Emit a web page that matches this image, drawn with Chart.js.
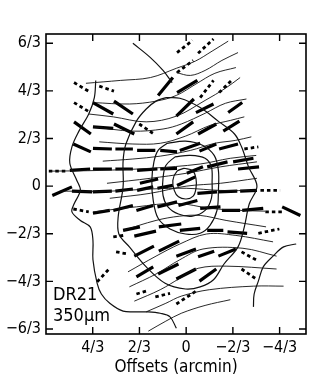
<!DOCTYPE html>
<html>
<head>
<meta charset="utf-8">
<script src="https://cdn.jsdelivr.net/npm/chart.js@4.4.1/dist/chart.umd.min.js"></script>
<style>
  html, body { margin: 0; padding: 0; background: #fff; }
</style>
</head>
<body>
<canvas id="mapa" width="332" height="388"></canvas>
<script>
// offsets in arcmin (x = RA offset, increasing to the left)
const xTicks = [4/3, 2/3, 0, -2/3, -4/3];
const xTickLabels = ['4/3', '2/3', '0', '\u22122/3', '\u22124/3'];
const yTicks = [2, 4/3, 2/3, 0, -2/3, -4/3, -2];
const yTickLabels = ['6/3', '4/3', '2/3', '0', '\u22122/3', '\u22124/3', '\u22126/3'];

// 350um flux contours
const contours = [
  [[0.03,0.25],[-0.09,0.22],[-0.14,0.11],[-0.14,-0.03],[-0.10,-0.14],[0,-0.18],[0.11,-0.15],[0.17,-0.06],[0.19,0.08],[0.13,0.21],[0.03,0.25]],
  [[0.16,0.41],[-0.06,0.43],[-0.27,0.39],[-0.36,0.27],[-0.37,0.06],[-0.36,-0.17],[-0.27,-0.34],[-0.09,-0.42],[0.11,-0.39],[0.26,-0.29],[0.33,-0.13],[0.33,0.11],[0.29,0.29],[0.16,0.41]],
  [[0.27,0.60],[0.01,0.63],[-0.24,0.57],[-0.40,0.43],[-0.46,0.22],[-0.46,-0.06],[-0.44,-0.34],[-0.34,-0.55],[-0.20,-0.66],[0.01,-0.67],[0.23,-0.60],[0.40,-0.45],[0.47,-0.20],[0.49,0.08],[0.46,0.34],[0.40,0.50],[0.27,0.60]],
  [[0.29,1.24],[0.09,1.23],[-0.20,1.10],[-0.47,0.90],[-0.69,0.73],[-0.79,0.55],[-0.89,0.27],[-1.01,0],[-0.90,-0.25],[-0.83,-0.57],[-0.74,-0.85],[-0.54,-1.09],[-0.39,-1.31],[-0.20,-1.41],[0.01,-1.44],[0.30,-1.36],[0.57,-1.13],[0.81,-0.85],[0.96,-0.67],[0.97,-0.43],[0.90,-0.01],[0.90,0.35],[0.86,0.59],[0.71,0.91],[0.57,1.08],[0.43,1.19],[0.29,1.24]],
  [[1.29,1.48],[1.31,1.24],[1.39,1.01],[1.53,0.77],[1.63,0.55],[1.66,0.32],[1.56,0.08],[1.51,-0.06],[1.60,-0.25],[1.63,-0.36],[1.51,-0.48],[1.37,-0.57],[1.33,-0.76],[1.33,-1.03],[1.27,-1.36],[1.21,-1.51],[1.09,-1.64],[0.90,-1.75],[0.71,-1.76],[0.54,-1.76],[0.37,-1.78],[0.23,-1.83],[0.14,-1.99]],
  [[0.76,2.00],[0.51,1.80],[0.33,1.62],[0.20,1.45]],
  [[-1.57,-0.81],[-1.39,-0.85],[-1.24,-0.98],[-1.10,-1.13],[-1.03,-1.33],[-0.97,-1.51],[-0.96,-1.69]]
];

// field lines drawn through the vectors
const fieldLines = [
  [[1.43,1.44],[0.94,1.48],[0.51,1.52],[0.14,1.65],[-0.13,1.75],[-0.37,1.89],[-0.60,2.03]],
  [[0.14,1.59],[-0.06,1.55],[-0.27,1.62],[-0.51,1.76],[-0.74,1.87]],
  [[1.33,1.17],[0.81,1.15],[0.43,1.19],[0.14,1.27],[-0.14,1.43],[-0.41,1.58],[-0.71,1.66]],
  [[1.39,1.01],[1.04,0.97],[0.57,0.90],[0.14,0.98],[-0.27,1.20],[-0.56,1.37],[-0.77,1.52]],
  [[1.33,0.83],[0.76,0.77],[0.33,0.80],[0.07,0.87],[-0.27,1.02],[-0.56,1.16],[-0.86,1.22]],
  [[1.24,0.62],[0.76,0.59],[0.37,0.60],[0.01,0.70],[-0.34,0.85],[-0.63,0.92],[-0.83,0.97]],
  [[1.19,0.35],[0.76,0.38],[0.37,0.42],[-0.06,0.50],[-0.41,0.60],[-0.70,0.64],[-0.93,0.69]],
  [[1.94,0.21],[1.23,0.22],[0.51,0.25],[-0.20,0.31],[-0.63,0.39],[-1.00,0.43]],
  [[1.13,0.04],[0.51,0.11],[0,0.18],[-0.49,0.27],[-1.01,0.34]],
  [[1.80,-0.07],[1.09,-0.07],[0.51,-0.04],[0,-0.03],[-0.49,-0.06],[-1.01,-0.06]],
  [[1.09,-0.17],[0.51,-0.10],[0,0],[-0.49,0.04],[-1.01,0.11]],
  [[1.33,-0.36],[0.71,-0.29],[0.14,-0.24],[-0.34,-0.31],[-0.77,-0.34],[-1.13,-0.35]],
  [[0.90,-0.62],[0.43,-0.48],[0.09,-0.42],[-0.20,-0.41],[-0.57,-0.48],[-1.14,-0.57]],
  [[0.83,-1.20],[0.43,-0.98],[0.09,-0.81],[-0.29,-0.67],[-0.71,-0.69],[-1.24,-0.78]],
  [[0.81,-1.41],[0.43,-1.23],[0.09,-1.03],[-0.24,-0.88],[-0.81,-0.87],[-1.29,-0.98]],
  [[0.74,-1.61],[0.37,-1.45],[0.09,-1.29],[-0.17,-1.15],[-0.57,-1.12],[-1.29,-1.16]],
  [[0.57,-1.76],[0.29,-1.64],[0.07,-1.54],[-0.33,-1.45],[-0.96,-1.40],[-1.39,-1.40]],
  [[0.54,-2.03],[0.29,-1.89],[0.07,-1.78],[-0.27,-1.67],[-0.63,-1.59]]
];

// polarization vectors [x1, y1, x2, y2]
const solidVectors = [
  [0.40,1.27,0.19,1.52],[0.13,1.31,-0.16,1.48],[1.33,1.17,1.04,1.01],[1.03,1.19,0.76,1.01],
  [1.60,0.90,1.36,0.73],[1.33,0.83,1.04,0.81],[1.03,0.87,0.74,0.73],[1.61,0.59,1.36,0.48],
  [1.33,0.53,1.06,0.52],[1.01,0.52,0.76,0.52],[0.70,0.50,0.44,0.50],[0.37,0.50,0.13,0.48],
  [0.09,0.50,-0.20,0.60],[0.14,0.73,-0.10,0.90],[-0.17,0.73,-0.43,0.87],[-0.53,0.77,-0.76,0.91],
  [0.14,0.98,-0.11,1.22],[-0.14,1.03,-0.39,1.15],[-0.60,1.03,-0.80,1.17],[-0.19,0.49,-0.43,0.59],
  [-0.47,0.52,-0.74,0.59],[-0.74,0.24,-1.04,0.27],[1.66,0.22,1.37,0.24],[1.33,0.24,1.06,0.24],
  [1.01,0.24,0.76,0.24],[0.70,0.22,0.41,0.24],[0.37,0.24,0.13,0.25],[-0.01,0.18,-0.24,0.27],
  [-0.30,0.27,-0.59,0.34],[-0.67,0.34,-0.96,0.39],[1.91,-0.13,1.63,-0.01],[1.63,-0.07,1.34,-0.08],
  [1.33,-0.08,1.06,-0.07],[1.01,-0.07,0.76,-0.04],[0.70,-0.06,0.47,-0.01],[0.41,-0.03,0.19,0.01],
  [0.13,0.01,-0.13,0.13],[-0.16,-0.10,-0.44,-0.08],[-0.46,-0.08,-0.73,-0.07],[-0.77,-0.07,-1.01,-0.06],
  [0.66,0.04,0.40,0.10],[1.33,-0.38,1.09,-0.34],[1.04,-0.34,0.76,-0.27],[0.71,-0.34,0.47,-0.27],
  [0.41,-0.29,0.13,-0.22],[0.11,-0.27,-0.16,-0.20],[-0.20,-0.31,-0.49,-0.29],[-0.51,-0.34,-0.77,-0.34],
  [-0.80,-0.34,-1.10,-0.31],[-1.37,-0.29,-1.63,-0.41],[0.90,-0.62,0.66,-0.57],[0.74,-0.70,0.43,-0.63],
  [0.39,-0.57,0.07,-0.53],[0.09,-0.62,-0.20,-0.59],[-0.30,-0.62,-0.53,-0.62],[-0.59,-0.64,-0.87,-0.66],
  [0.74,-0.98,0.46,-0.84],[0.39,-0.91,0.10,-0.77],[0.14,-0.98,-0.14,-0.88],[-0.17,-0.99,-0.40,-0.91],
  [-0.46,-0.98,-0.71,-0.88],[0.71,-1.27,0.47,-1.13],[0.40,-1.23,0.11,-1.09],[0.14,-1.30,-0.14,-1.16],
  [-0.19,-1.33,-0.43,-1.16]
];
const dashedVectors = [
  [0.13,1.87,-0.09,2.04],[-0.17,1.86,-0.39,2.06],[0.13,1.59,-0.10,1.76],[-0.20,1.24,-0.39,1.48],
  [-0.47,1.31,-0.67,1.50],[1.60,1.45,1.36,1.31],[1.24,1.40,1.03,1.33],[1.60,1.17,1.40,1.05],
  [0.67,0.87,0.46,0.73],[-0.83,0.52,-1.03,0.55],[1.96,0.21,1.69,0.21],[-1.06,-0.06,-1.34,-0.06],
  [1.61,-0.32,1.39,-0.36],[-1.13,-0.36,-1.39,-0.36],[1.04,-0.71,0.89,-0.69],[-1.03,-0.66,-1.33,-0.60],
  [1.00,-0.92,0.83,-0.95],[-0.79,-0.92,-1.03,-1.05],[1.27,-1.34,1.11,-1.17],[-0.79,-1.16,-1.00,-1.30],
  [0.44,-1.55,0.23,-1.50],[0.14,-1.65,-0.14,-1.47],[0.71,-1.51,0.57,-1.47]
];

const fonte = "'DejaVu Sans Condensed', 'Liberation Sans Narrow', 'DejaVu Sans', sans-serif";

function curva(pts, w) {
  return {
    data: pts.map(p => ({ x: p[0], y: p[1] })),
    showLine: true, borderColor: '#111', borderWidth: w,
    pointRadius: 0, tension: 0.35, fill: false
  };
}
function vetores(list, w, dash) {
  const d = [];
  list.forEach(v => {
    d.push({ x: v[0], y: v[1] }, { x: v[2], y: v[3] }, { x: v[2], y: null });
  });
  return {
    data: d, showLine: true, borderColor: '#000', borderWidth: w,
    borderDash: dash, borderCapStyle: 'butt', pointRadius: 0, tension: 0
  };
}

const datasets = [];
contours.forEach(c => datasets.push(curva(c, 1.2)));
fieldLines.forEach(f => datasets.push(curva(f, 0.9)));
datasets.push(vetores(solidVectors, 3.2, []));
datasets.push(vetores(dashedVectors, 2.8, [3.5, 3]));

// inward ticks on all four sides + frame + label
const moldura = {
  id: 'moldura',
  afterDatasetsDraw(chart) {
    const { ctx, chartArea: a, scales } = chart;
    const t = 7;
    ctx.save();
    ctx.strokeStyle = '#000';
    ctx.lineWidth = 1.6;
    ctx.strokeRect(a.left, a.top, a.right - a.left, a.bottom - a.top);
    ctx.lineWidth = 1.4;
    ctx.beginPath();
    xTicks.forEach(v => {
      const px = scales.x.getPixelForValue(v);
      ctx.moveTo(px, a.bottom); ctx.lineTo(px, a.bottom - t);
      ctx.moveTo(px, a.top); ctx.lineTo(px, a.top + t);
    });
    yTicks.forEach(v => {
      const py = scales.y.getPixelForValue(v);
      ctx.moveTo(a.left, py); ctx.lineTo(a.left + t, py);
      ctx.moveTo(a.right, py); ctx.lineTo(a.right - t, py);
    });
    ctx.stroke();
    ctx.fillStyle = '#000';
    ctx.font = '18px ' + fonte;
    ctx.textBaseline = 'middle';
    ctx.fillText('DR21', a.left + 7, 295);
    ctx.fillText('350\u03bcm', a.left + 7, 316);
    ctx.restore();
  }
};

new Chart(document.getElementById('mapa'), {
  type: 'scatter',
  data: { datasets },
  options: {
    responsive: false,
    animation: false,
    layout: { padding: { top: 34, right: 26, left: 0, bottom: 0 } },
    plugins: { legend: { display: false }, tooltip: { enabled: false } },
    scales: {
      x: {
        type: 'linear', reverse: true, min: -1.71, max: 2.0,
        afterBuildTicks: s => { s.ticks = xTicks.map(v => ({ value: v })); },
        afterFit: s => { s.height = 54; },
        grid: { display: false, drawTicks: false }, border: { display: false },
        ticks: {
          color: '#000', padding: 4, maxRotation: 0, autoSkip: false,
          font: { family: fonte, size: 16 },
          callback: (v, i) => xTickLabels[i]
        },
        title: {
          display: true, text: 'Offsets (arcmin)', color: '#000',
          font: { family: fonte, size: 17 }, padding: { top: 0, bottom: 10 }
        }
      },
      y: {
        type: 'linear', min: -2.07, max: 2.13,
        afterBuildTicks: s => { s.ticks = yTicks.map(v => ({ value: v })); },
        afterFit: s => { s.width = 46; },
        grid: { display: false, drawTicks: false }, border: { display: false },
        ticks: {
          color: '#000', padding: 5, autoSkip: false,
          font: { family: fonte, size: 16 },
          callback: (v, i) => yTickLabels[i]
        }
      }
    }
  },
  plugins: [moldura]
});
</script>
</body>
</html>
